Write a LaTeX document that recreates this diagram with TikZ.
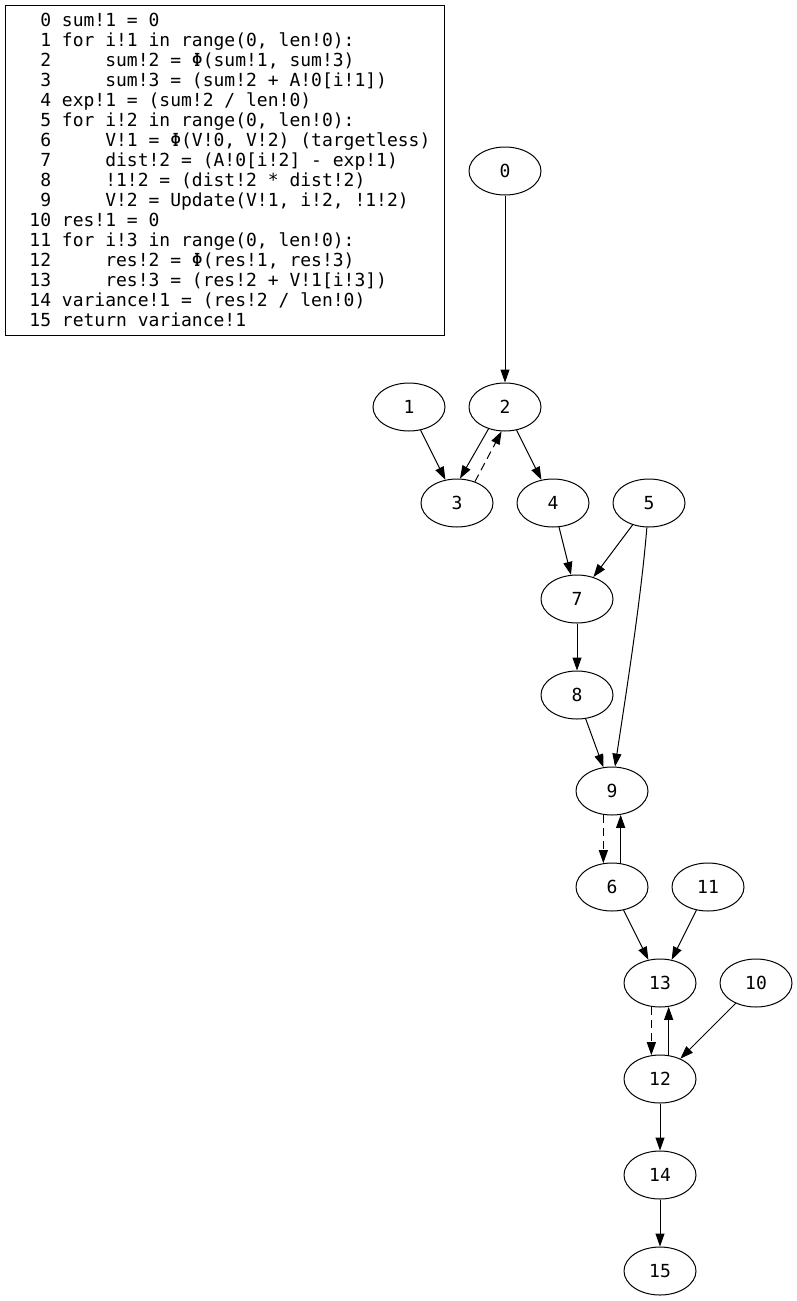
\documentclass[tikz,border=0pt]{standalone}
\usepackage{fontspec}
\newfontfamily\codefont{DejaVu Sans Mono}
\usetikzlibrary{shapes.geometric,arrows.meta}
\begin{document}
\begin{tikzpicture}[x=1pt,y=-1pt,line width=1pt,
  mono/.style={font=\codefont\fontsize{18}{20}\selectfont\frenchspacing},
  vertex/.style={ellipse,draw,mono,minimum width=72pt,minimum height=48pt,inner sep=0pt},
  flow/.style={-{Triangle[length=13pt,width=9pt]}},
  backflow/.style={flow,dash pattern=on 8pt off 5pt},
  listing/.style={draw,mono,align=left,inner sep=0pt,minimum width=439pt,minimum height=330pt}]
\useasboundingbox (0,0) rectangle (797,1301);

% program listing
\node[listing] (code) at (224.5,170) {%
\phantom{00}0 sum!1 = 0\\
\phantom{00}1 for i!1 in range(0, len!0):\\
\phantom{00}2 \phantom{0000}sum!2 = Φ(sum!1, sum!3)\\
\phantom{00}3 \phantom{0000}sum!3 = (sum!2 + A!0[i!1])\\
\phantom{00}4 exp!1 = (sum!2 / len!0)\\
\phantom{00}5 for i!2 in range(0, len!0):\\
\phantom{00}6 \phantom{0000}V!1 = Φ(V!0, V!2) (targetless)\\
\phantom{00}7 \phantom{0000}dist!2 = (A!0[i!2] - exp!1)\\
\phantom{00}8 \phantom{0000}!1!2 = (dist!2 * dist!2)\\
\phantom{00}9 \phantom{0000}V!2 = Update(V!1, i!2, !1!2)\\
\phantom{0}10 res!1 = 0\\
\phantom{0}11 for i!3 in range(0, len!0):\\
\phantom{0}12 \phantom{0000}res!2 = Φ(res!1, res!3)\\
\phantom{0}13 \phantom{0000}res!3 = (res!2 + V!1[i!3])\\
\phantom{0}14 variance!1 = (res!2 / len!0)\\
\phantom{0}15 return variance!1};

% statement nodes
\node[vertex] (n0)  at (505,171)  {0};
\node[vertex] (n1)  at (409,407)  {1};
\node[vertex] (n2)  at (505,407)  {2};
\node[vertex] (n3)  at (457,503)  {3};
\node[vertex] (n4)  at (553,503)  {4};
\node[vertex] (n5)  at (649,503)  {5};
\node[vertex] (n7)  at (577,599)  {7};
\node[vertex] (n8)  at (577,695)  {8};
\node[vertex] (n9)  at (612,791)  {9};
\node[vertex] (n6)  at (612,887)  {6};
\node[vertex] (n11) at (708,887)  {11};
\node[vertex] (n13) at (660,983)  {13};
\node[vertex] (n10) at (756,983)  {10};
\node[vertex] (n12) at (660,1079) {12};
\node[vertex] (n14) at (660,1175) {14};
\node[vertex] (n15) at (660,1271) {15};

% dependencies
\draw[flow] (n0) -- (n2);
\draw[flow] (n1) -- (n3);
\draw[flow] (n2.233) -- (n3.83);
\draw[backflow] (n3.50) -- (n2.262);
\draw[flow] (n2) -- (n4);
\draw[flow] (n4) -- (n7);
\draw[flow] (n5) -- (n7);
\draw[flow] (n5.265) .. controls (641,600) and (625,700) .. (n9.83);
\draw[flow] (n7) -- (n8);
\draw[flow] (n8) -- (n9);
\draw[backflow] (n9.250) -- (n6.110);
\draw[flow] (n6.70) -- (n9.290);
\draw[flow] (n6) -- (n13);
\draw[flow] (n11) -- (n13);
\draw[backflow] (n13.250) -- (n12.110);
\draw[flow] (n12.70) -- (n13.290);
\draw[flow] (n10) -- (n12);
\draw[flow] (n12) -- (n14);
\draw[flow] (n14) -- (n15);
\end{tikzpicture}
\end{document}
